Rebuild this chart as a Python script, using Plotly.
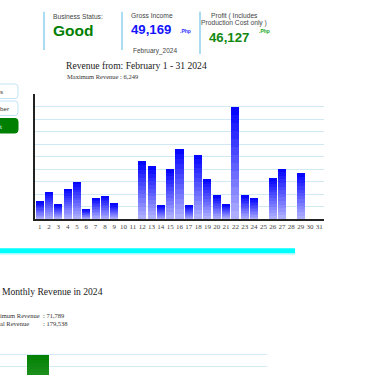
import plotly.graph_objects as go

W = H = 375

# ---------------- data ----------------
days = list(range(1, 32))
day_labels = [str(d) for d in days]
daily_revenue = [970, 1511, 802, 1660, 2070, 541, 1175, 1287, 839, 0, 0,
                 3208, 2928, 746, 2760, 3880, 727, 3581, 2238, 1306, 802,
                 6249, 1306, 1138, 0, 2294, 2798, 0, 2536, 0, 0]
months = ["January", "February", "March"]
monthly_revenue = [71789, 49169, 58580]

business_status = "Good"
gross_income = "49,169"
profit = "46,127"
period_label = "February_2024"
max_daily = max(daily_revenue)
max_monthly = max(monthly_revenue)
total_monthly = 179538

# ---------------- helpers ----------------
def X(px):
    return px / W

def Y(py):
    return 1 - py / H

def hex_to_rgb(h):
    h = h.lstrip("#")
    return tuple(int(h[i:i + 2], 16) for i in (0, 2, 4))

def mix(c1, c2, t):
    a, b = hex_to_rgb(c1), hex_to_rgb(c2)
    return "rgb(%d,%d,%d)" % tuple(round(a[i] + (b[i] - a[i]) * t) for i in range(3))

fig = go.Figure()

def gradient_bars(x, values, n, top_col, bottom_col, width, xaxis, yaxis):
    for k in range(n):
        t = (k + 0.5) / n
        fig.add_trace(go.Bar(
            x=x, y=[v / n for v in values],
            marker=dict(color=mix(bottom_col, top_col, t), line=dict(width=0)),
            width=width, xaxis=xaxis, yaxis=yaxis, showlegend=False,
            hoverinfo="skip"))

gradient_bars(days, daily_revenue, 14, "#0000ff", "#b4b4ff", 0.86, "x", "y")
gradient_bars(list(range(len(months))), monthly_revenue, 40, "#008000", "#a8d8a8", 0.9, "x2", "y2")

step1 = max_daily / 9
step2 = max_monthly / 9

fig.update_layout(
    width=W, height=H, margin=dict(l=0, r=0, t=0, b=0),
    paper_bgcolor="white", plot_bgcolor="white",
    barmode="stack", bargap=0, showlegend=False,
    xaxis=dict(domain=[X(35), X(324)], range=[0.5, 31.5],
               tickvals=days, ticktext=day_labels, tickangle=0, ticks="",
               showgrid=False, showline=True, linecolor="#222", linewidth=1.5,
               zeroline=False,
               tickfont=dict(family="Liberation Serif", size=7, color="#444"),
               anchor="y", fixedrange=True),
    yaxis=dict(domain=[Y(219), Y(94)], range=[0, step1 * 10],
               tickvals=[step1 * i for i in range(1, 10)], showticklabels=False,
               ticks="", showgrid=True, gridcolor="#cfeaf5", gridwidth=1,
               showline=True, linecolor="#222", linewidth=1.5, zeroline=False,
               anchor="x"),
    xaxis2=dict(domain=[0, X(267)], range=[-1.514, 9.12], showticklabels=False,
                showgrid=False, showline=False, zeroline=False, ticks="",
                anchor="y2"),
    yaxis2=dict(domain=[0, Y(341.6)], range=[58700, step2 * 10],
                tickvals=[step2 * 8, step2 * 9], showticklabels=False, ticks="",
                showgrid=True, gridcolor="#d3ebf7", gridwidth=1.2,
                showline=False, zeroline=False, anchor="x2"),
)

shapes = []
# header dividers
for x0, y1 in [(44, 50), (122, 50), (200, 54)]:
    shapes.append(dict(type="line", xref="paper", yref="paper",
                       x0=X(x0), x1=X(x0), y0=Y(11.7), y1=Y(y1),
                       line=dict(color="#8fd0ee", width=1.5)))

def rounded_right(x0, x1, y0, y1, r):
    return ("M %f %f L %f %f Q %f %f %f %f L %f %f Q %f %f %f %f L %f %f Z" % (
        X(x0), Y(y0), X(x1 - r), Y(y0), X(x1), Y(y0), X(x1), Y(y0 + r),
        X(x1), Y(y1 - r), X(x1), Y(y1), X(x1 - r), Y(y1), X(x0), Y(y1)))

shapes.append(dict(type="path", xref="paper", yref="paper",
                   path=rounded_right(-20, 18, 84, 98.5, 3),
                   line=dict(color="#c4e4f6", width=1), fillcolor="white"))
shapes.append(dict(type="path", xref="paper", yref="paper",
                   path=rounded_right(-20, 18, 101, 115.5, 3),
                   line=dict(color="#c4e4f6", width=1), fillcolor="white"))
shapes.append(dict(type="path", xref="paper", yref="paper",
                   path=rounded_right(-20, 18, 118.5, 133, 3),
                   line=dict(color="#008000", width=1), fillcolor="#008000"))
# cyan separator
shapes.append(dict(type="rect", xref="paper", yref="paper", x0=X(-2), x1=X(295),
                   y0=Y(248.3), y1=Y(253.4), fillcolor="#00ffff", line=dict(width=0)))
shapes.append(dict(type="rect", xref="paper", yref="paper", x0=X(-2), x1=X(295),
                   y0=Y(253.4), y1=Y(254.7), fillcolor="#b8fbff", line=dict(width=0)))
fig.update_layout(shapes=shapes)

SANS = "Liberation Sans"
SERIF = "Liberation Serif"
ann = []
PAD = 2.2  # annotation box padding in px

def text(s, px, py, size, color="#333", family=SANS, bold=False):
    if bold:
        s = "<b>%s</b>" % s
    ann.append(dict(text=s, x=X(px - PAD), y=Y(py), xref="paper", yref="paper",
                    xanchor="left", yanchor="middle", showarrow=False,
                    font=dict(family=family, size=size, color=color)))

text("Business Status:", 53.5, 16.5, 6.7, "#444")
text(business_status, 53, 30.5, 15.5, "#008000", bold=True)
text("Gross Income", 131.5, 16, 6.7, "#444")
text(gross_income, 131, 29, 13.2, "#1414ff", bold=True)
text(".Php", 180.5, 30.5, 5, "#3030ff", bold=True)
text(period_label, 133.5, 51, 6.5, "#444")
text("Profit ( Includes", 211.5, 16, 6.7, "#444")
text("Production Cost only )", 201.5, 22.5, 6.7, "#444")
text(profit, 209.5, 38, 13.2, "#118811", bold=True)
text(".Php", 259.5, 31, 5, "#22aa22", bold=True)

text("Revenue from: February 1 - 31 2024", 66.5, 65.8, 9.6, "#222", SERIF)
text("Maximum Revenue : {:,}".format(max_daily), 67.5, 76, 6.5, "#333", SERIF)

# visible ends of the (cut-off) side buttons
text("s", 0.3, 91.3, 6.2, "#333")
text("ber", 0.3, 108.3, 6.2, "#333")
text("t", 0.5, 126, 6.2, "white")

text("Monthly Revenue in 2024", 1.8, 291.8, 9.6, "#222", SERIF)
text("imum Revenue", 0.2, 315.2, 6.5, "#333", SERIF)
text(": {:,}".format(max_monthly), 43.4, 315.2, 6.5, "#333", SERIF)
text("al Revenue", 0.2, 323.8, 6.5, "#333", SERIF)
text(": {:,}".format(total_monthly), 43.4, 323.8, 6.5, "#333", SERIF)

fig.update_layout(annotations=ann)
fig.write_html("out.html")
